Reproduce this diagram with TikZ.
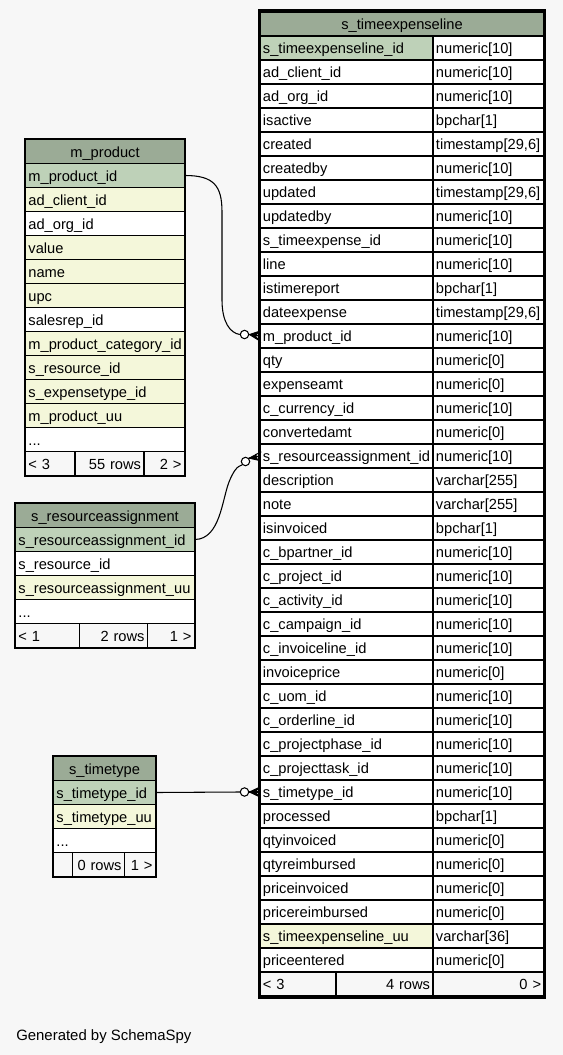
\documentclass[tikz,border=0pt]{standalone}
\usepackage{fontspec}
\setmainfont{Liberation Sans}
\definecolor{bgc}{HTML}{F7F7F7}
\definecolor{hdc}{HTML}{9BAB96}
\definecolor{pkc}{HTML}{BED1B8}
\definecolor{ixc}{HTML}{F4F7DA}
\definecolor{whc}{HTML}{FFFFFF}
\tikzset{
  cell/.style={draw=black, line width=0.8pt, rectangle, minimum height=18pt,
    inner xsep=2.2pt, inner ysep=0pt, text height=8.8pt, text depth=0pt,
    font=\fontsize{11pt}{13pt}\selectfont},
  odot/.style={circle, draw=black, fill=white, line width=0.8pt, minimum size=6.3pt, inner sep=0pt},
  conn/.style={draw=black, line width=0.8pt},
  crowf/.style={draw=black, fill=black, line width=0.6pt, line join=miter},
  tblborder/.style={draw=black, line width=0.8pt},
  thickborder/.style={draw=black, line width=2.1pt},
}
\newcommand{\mkcell}[7]{%
  \pgfmathsetmacro{\mycw}{(#3-#2)*0.75}%
  \pgfmathsetmacro{\mytw}{(#3-#2)*0.75-4.4}%
  \pgfmathsetmacro{\mycx}{(#2+#3)/2}%
  \node[cell, fill=#5, minimum width=\mycw pt, text width=\mytw pt, align=#6] (#1) at (\mycx,#4) {#7};}
\begin{document}
\begin{tikzpicture}[x=0.75pt, y=-0.75pt]
\fill[bgc] (0,0) rectangle (563,1055);
\useasboundingbox (0,0) rectangle (563,1055);

% ---------- s_timeexpenseline ----------
\mkcell{teh}{260}{544}{24}{hdc}{center}{s\_timeexpenseline}
\foreach \cname/\ctype/\cfill [count=\i] in {
  s\_timeexpenseline\_id/numeric[10]/pkc,
  ad\_client\_id/numeric[10]/whc,
  ad\_org\_id/numeric[10]/whc,
  isactive/bpchar[1]/whc,
  created/{timestamp[29,6]}/whc,
  createdby/numeric[10]/whc,
  updated/{timestamp[29,6]}/whc,
  updatedby/numeric[10]/whc,
  s\_timeexpense\_id/numeric[10]/whc,
  line/numeric[10]/whc,
  istimereport/bpchar[1]/whc,
  dateexpense/{timestamp[29,6]}/whc,
  m\_product\_id/numeric[10]/whc,
  qty/numeric[0]/whc,
  expenseamt/numeric[0]/whc,
  c\_currency\_id/numeric[10]/whc,
  convertedamt/numeric[0]/whc,
  s\_resourceassignment\_id/numeric[10]/whc,
  description/varchar[255]/whc,
  note/varchar[255]/whc,
  isinvoiced/bpchar[1]/whc,
  c\_bpartner\_id/numeric[10]/whc,
  c\_project\_id/numeric[10]/whc,
  c\_activity\_id/numeric[10]/whc,
  c\_campaign\_id/numeric[10]/whc,
  c\_invoiceline\_id/numeric[10]/whc,
  invoiceprice/numeric[0]/whc,
  c\_uom\_id/numeric[10]/whc,
  c\_orderline\_id/numeric[10]/whc,
  c\_projectphase\_id/numeric[10]/whc,
  c\_projecttask\_id/numeric[10]/whc,
  s\_timetype\_id/numeric[10]/whc,
  processed/bpchar[1]/whc,
  qtyinvoiced/numeric[0]/whc,
  qtyreimbursed/numeric[0]/whc,
  priceinvoiced/numeric[0]/whc,
  pricereimbursed/numeric[0]/whc,
  s\_timeexpenseline\_uu/varchar[36]/ixc,
  priceentered/numeric[0]/whc}{
  \pgfmathsetmacro{\yc}{48+24*(\i-1)}
  \mkcell{tel\i}{260}{433}{\yc}{\cfill}{left}{\cname}
  \mkcell{tet\i}{433}{544}{\yc}{whc}{left}{\ctype}
}
\mkcell{tef1}{260}{336}{984}{bgc}{left}{< 3}
\mkcell{tef2}{336}{433}{984}{bgc}{right}{4 rows}
\mkcell{tef3}{433}{544}{984}{bgc}{right}{0 >}
\draw[thickborder] (259,10.5) rectangle (545,998);

% ---------- m_product ----------
\mkcell{mph}{25.5}{184.5}{151.5}{hdc}{center}{m\_product}
\foreach \cname/\cfill [count=\i] in {
  m\_product\_id/pkc,
  ad\_client\_id/ixc,
  ad\_org\_id/whc,
  value/ixc,
  name/ixc,
  upc/ixc,
  salesrep\_id/whc,
  m\_product\_category\_id/ixc,
  s\_resource\_id/ixc,
  s\_expensetype\_id/ixc,
  m\_product\_uu/ixc}{
  \pgfmathsetmacro{\yc}{175.5+24*(\i-1)}
  \mkcell{mp\i}{25.5}{184.5}{\yc}{\cfill}{left}{\cname}
}
\mkcell{mp12}{25.5}{184.5}{439.5}{whc}{left}{...}
\mkcell{mpf1}{25.5}{75}{463.5}{bgc}{left}{< 3}
\mkcell{mpf2}{75}{144}{463.5}{bgc}{right}{55 rows}
\mkcell{mpf3}{144}{184.5}{463.5}{bgc}{right}{2 >}
\draw[tblborder] (25,139) rectangle (185,476);

% ---------- s_resourceassignment ----------
\mkcell{rah}{15.5}{194.5}{515.5}{hdc}{center}{s\_resourceassignment}
\mkcell{ra1}{15.5}{194.5}{539.5}{pkc}{left}{s\_resourceassignment\_id}
\mkcell{ra2}{15.5}{194.5}{563.5}{whc}{left}{s\_resource\_id}
\mkcell{ra3}{15.5}{194.5}{587.5}{ixc}{left}{s\_resourceassignment\_uu}
\mkcell{ra4}{15.5}{194.5}{611.5}{whc}{left}{...}
\mkcell{raf1}{15.5}{79.5}{635.5}{bgc}{left}{< 1}
\mkcell{raf2}{79.5}{147.5}{635.5}{bgc}{right}{2 rows}
\mkcell{raf3}{147.5}{194.5}{635.5}{bgc}{right}{1 >}
\draw[tblborder] (15,503) rectangle (195,648);

% ---------- s_timetype ----------
\mkcell{sth}{53.5}{155.5}{768.5}{hdc}{center}{s\_timetype}
\mkcell{st1}{53.5}{155.5}{792.5}{pkc}{left}{s\_timetype\_id}
\mkcell{st2}{53.5}{155.5}{816.5}{ixc}{left}{s\_timetype\_uu}
\mkcell{st3}{53.5}{155.5}{840.5}{whc}{left}{...}
\mkcell{stf1}{53.5}{72.5}{864.5}{bgc}{left}{}
\mkcell{stf2}{72.5}{124.5}{864.5}{bgc}{right}{0 rows}
\mkcell{stf3}{124.5}{155.5}{864.5}{bgc}{right}{1 >}
\draw[tblborder] (53,756) rectangle (156,877);

% ---------- connectors ----------
% m_product -> s_timeexpenseline
\node[odot] (o1) at (244.5,334.5) {};
\draw[conn] (mp1.east) .. controls (214,175.5) and (222,186) .. (222,212)
  -- (222,300) .. controls (222,322) and (230,333) .. (o1.west);
\coordinate (c1) at (tel13.west);
\path[crowf] (o1.east) -- ([yshift=-3.6pt]c1) -- ([xshift=-3pt]c1) -- ([yshift=3.6pt]c1) -- cycle;
\draw[conn] (o1.east) -- (c1);

% s_resourceassignment -> s_timeexpenseline
\node[odot] (o2) at (245.5,461.5) {};
\draw[conn] (ra1.east) .. controls (220,539) and (222,500) .. (229,482)
  .. controls (233,472) and (237,466) .. (o2.south west);
\coordinate (c2) at (tel18.west);
\path[crowf] (o2.north east) -- ([shift={(-1.4pt,-3.1pt)}]c2) -- ([shift={(-2.8pt,1.2pt)}]c2) -- ([shift={(1.4pt,3.1pt)}]c2) -- cycle;
\draw[conn] (o2.north east) -- (c2);

% s_timetype -> s_timeexpenseline
\node[odot] (o3) at (244.5,792) {};
\draw[conn] (st1.east) -- (o3.west);
\coordinate (c3) at (tel32.west);
\path[crowf] (o3.east) -- ([yshift=-3.6pt]c3) -- ([xshift=-3pt]c3) -- ([yshift=3.6pt]c3) -- cycle;
\draw[conn] (o3.east) -- (c3);

% ---------- footer ----------
\node[anchor=base west, inner sep=0pt, font=\fontsize{11.2pt}{13pt}\selectfont] (gen) at (16,1040) {Generated by SchemaSpy};
\end{tikzpicture}
\end{document}
